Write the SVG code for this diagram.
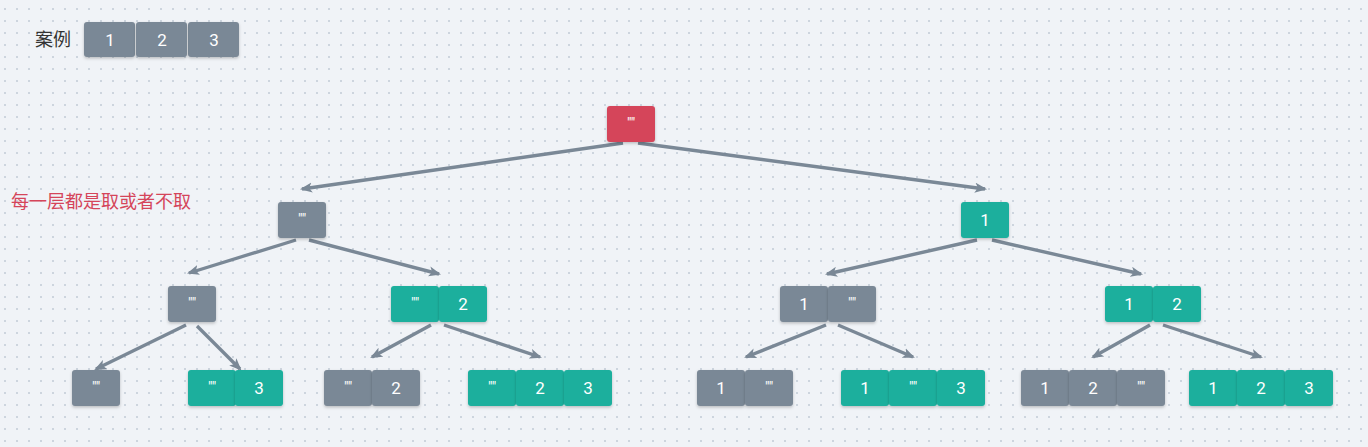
<svg xmlns="http://www.w3.org/2000/svg" width="1368" height="447" viewBox="0 0 1368 447">
<defs>
<pattern id="dots" x="4" y="8" width="12" height="12" patternUnits="userSpaceOnUse"><rect x="0" y="0" width="2" height="2" fill="#cdd5de"/></pattern>
<filter id="sh" x="-20%" y="-20%" width="140%" height="150%"><feDropShadow dx="0" dy="1.5" stdDeviation="1.5" flood-color="#000" flood-opacity="0.22"/></filter>
<marker id="ah" viewBox="0 0 12 10" refX="10" refY="5" markerWidth="3.6" markerHeight="3.1" orient="auto" markerUnits="strokeWidth"><path d="M0,0 L12,5 L0,10 L3,5 z" fill="#7a8896"/></marker>
<style>
.g{fill:#7a8896}.t{fill:#1aaf9d}.r{fill:#d5455a}
.b rect{filter:url(#sh)}
.lb{font-family:Roboto,"Liberation Sans",sans-serif;font-size:17px;fill:#fff;text-anchor:middle}
.q{font-size:14px}
.e{fill:none;stroke:#7a8896;stroke-width:3.4;marker-end:url(#ah)}
</style>
</defs>
<rect width="1368" height="447" fill="#f0f3f7"/>
<rect width="1368" height="447" fill="url(#dots)"/>
<text x="35" y="46" font-family="'Noto Sans CJK SC',sans-serif" font-size="18" fill="#333">案例</text>
<g id="case" class="b">
<rect class="g" x="84" y="22" width="51" height="35" rx="3"/><text class="lb" x="110" y="46">1</text>
<rect class="g" x="188" y="22" width="51" height="35" rx="3"/><text class="lb" x="214" y="46">3</text>
<rect class="g" x="136" y="22" width="51" height="35" rx="3"/><text class="lb" x="162" y="46">2</text>
</g>
<text x="11" y="208" font-family="'Noto Sans CJK SC',sans-serif" font-size="18" fill="#d5455a">每一层都是取或者不取</text>
<g id="connectors">
<line class="e" x1="623" y1="143" x2="302" y2="189"/>
<line class="e" x1="638" y1="143" x2="985" y2="189"/>
<line class="e" x1="296" y1="240" x2="189" y2="273"/>
<line class="e" x1="309" y1="240" x2="439" y2="274"/>
<line class="e" x1="977" y1="240" x2="827" y2="274"/>
<line class="e" x1="992" y1="240" x2="1141" y2="274"/>
<line class="e" x1="186" y1="325" x2="96" y2="369"/>
<line class="e" x1="197" y1="326" x2="240" y2="369"/>
<line class="e" x1="431" y1="325" x2="372" y2="357"/>
<line class="e" x1="444" y1="325" x2="540" y2="357"/>
<line class="e" x1="826" y1="325" x2="746" y2="357"/>
<line class="e" x1="838" y1="325" x2="913" y2="357"/>
<line class="e" x1="1150" y1="325" x2="1093" y2="357"/>
<line class="e" x1="1163" y1="325" x2="1261" y2="357"/>
</g>
<g id="n0" class="b"><rect class="r" x="607" y="106" width="48" height="36" rx="3"/><text class="lb q" x="631" y="128">""</text></g>
<g id="n1" class="b"><rect class="g" x="278" y="202" width="48" height="36" rx="3"/><text class="lb q" x="302" y="224">""</text></g>
<g id="n2" class="b"><rect class="t" x="961" y="202" width="48" height="36" rx="3"/><text class="lb" x="985" y="226">1</text></g>
<g id="n3" class="b"><rect class="g" x="168" y="286" width="48" height="36" rx="3"/><text class="lb q" x="192" y="308">""</text></g>
<g id="n4" class="b"><rect class="t" x="391" y="286" width="48" height="36" rx="3"/><text class="lb q" x="415" y="308">""</text><rect class="t" x="439" y="286" width="48" height="36" rx="3"/><text class="lb" x="463" y="310">2</text></g>
<g id="n5" class="b"><rect class="g" x="780" y="286" width="48" height="36" rx="3"/><text class="lb" x="804" y="310">1</text><rect class="g" x="828" y="286" width="48" height="36" rx="3"/><text class="lb q" x="852" y="308">""</text></g>
<g id="n6" class="b"><rect class="t" x="1105" y="286" width="48" height="36" rx="3"/><text class="lb" x="1129" y="310">1</text><rect class="t" x="1153" y="286" width="48" height="36" rx="3"/><text class="lb" x="1177" y="310">2</text></g>
<g id="n7" class="b"><rect class="g" x="72" y="370" width="48" height="36" rx="3"/><text class="lb q" x="96" y="392">""</text></g>
<g id="n8" class="b"><rect class="t" x="188" y="370" width="48" height="36" rx="3"/><text class="lb q" x="212" y="392">""</text><rect class="t" x="235" y="370" width="48" height="36" rx="3"/><text class="lb" x="259" y="394">3</text></g>
<g id="n9" class="b"><rect class="g" x="324" y="370" width="48" height="36" rx="3"/><text class="lb q" x="348" y="392">""</text><rect class="g" x="372" y="370" width="48" height="36" rx="3"/><text class="lb" x="396" y="394">2</text></g>
<g id="n10" class="b"><rect class="t" x="468" y="370" width="48" height="36" rx="3"/><text class="lb q" x="492" y="392">""</text><rect class="t" x="516" y="370" width="48" height="36" rx="3"/><text class="lb" x="540" y="394">2</text><rect class="t" x="564" y="370" width="48" height="36" rx="3"/><text class="lb" x="588" y="394">3</text></g>
<g id="n11" class="b"><rect class="g" x="697" y="370" width="48" height="36" rx="3"/><text class="lb" x="721" y="394">1</text><rect class="g" x="745" y="370" width="48" height="36" rx="3"/><text class="lb q" x="769" y="392">""</text></g>
<g id="n12" class="b"><rect class="t" x="841" y="370" width="48" height="36" rx="3"/><text class="lb" x="865" y="394">1</text><rect class="t" x="889" y="370" width="48" height="36" rx="3"/><text class="lb q" x="913" y="392">""</text><rect class="t" x="937" y="370" width="48" height="36" rx="3"/><text class="lb" x="961" y="394">3</text></g>
<g id="n13" class="b"><rect class="g" x="1021" y="370" width="48" height="36" rx="3"/><text class="lb" x="1045" y="394">1</text><rect class="g" x="1069" y="370" width="48" height="36" rx="3"/><text class="lb" x="1093" y="394">2</text><rect class="g" x="1117" y="370" width="48" height="36" rx="3"/><text class="lb q" x="1141" y="392">""</text></g>
<g id="n14" class="b"><rect class="t" x="1189" y="370" width="48" height="36" rx="3"/><text class="lb" x="1213" y="394">1</text><rect class="t" x="1237" y="370" width="48" height="36" rx="3"/><text class="lb" x="1261" y="394">2</text><rect class="t" x="1285" y="370" width="48" height="36" rx="3"/><text class="lb" x="1309" y="394">3</text></g>
</svg>
